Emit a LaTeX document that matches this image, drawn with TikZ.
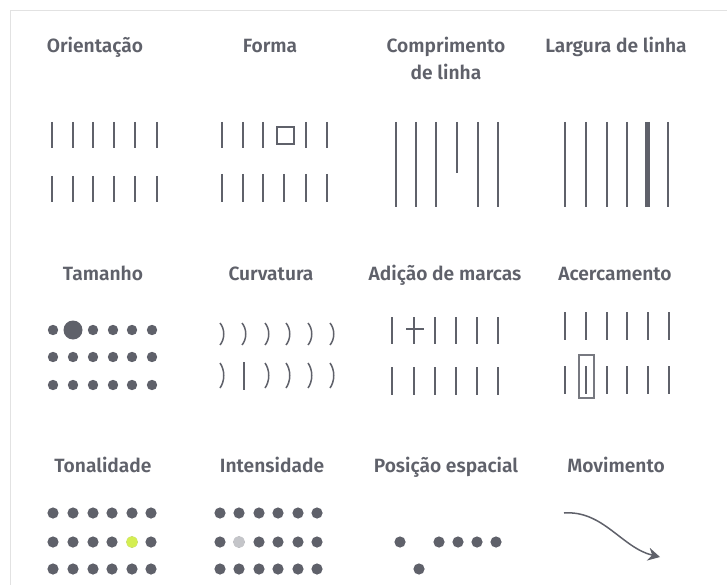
\documentclass[tikz,border=0pt]{standalone}
\usepackage{fontspec}
\setmainfont{Fira Sans}
\newfontfamily\titlefont{Fira Sans SemiBold}
\usetikzlibrary{arrows.meta,positioning}
\definecolor{ink}{RGB}{95,97,106}
\definecolor{frameline}{RGB}{226,226,226}
\definecolor{tonegreen}{RGB}{212,238,82}
\definecolor{pale}{RGB}{196,197,201}
\tikzset{%
  title/.style={
    text=ink,
    anchor=base,
    align=center,
    font=\titlefont\fontsize{19.2}{27}\selectfont
  },
  bar/.style={
    draw=ink,
    line width=2pt
  },
  thin bar/.style={
    draw=ink,
    line width=1.5pt
  },
}

\begin{document}
\begin{tikzpicture}[x=1pt,y=-1pt]
  \useasboundingbox (0,0) rectangle (727,585);
  \draw[frameline, line width=1pt] (10,585) -- (10,10.5) -- (727,10.5);

  % titles
  \node[title] (orient) at (95,53) {Orientação};
  \node[title] (forma) at (270,53) {Forma};
  \node[title] (compr) at (446,80) {Comprimento\\de linha};
  \node[title] (largura) at (616,53) {Largura de linha};
  \node[title] (tamanho) at (103,280) {Tamanho};
  \node[title] (curv) at (271,280) {Curvatura};
  \node[title] (adicao) at (445,280) {Adição de marcas};
  \node[title] (acerc) at (615,280) {Acercamento};
  \node[title] (tonal) at (103,472) {Tonalidade};
  \node[title] (intens) at (272,472) {Intensidade};
  \node[title] (posicao) at (446,472) {Posição espacial};
  \node[title] (movim) at (616,472) {Movimento};

  % Orientação
  \foreach \x in {52,73,93,114,135,157} {
    \draw[bar] (\x,122) -- (\x,148);
    \draw[bar] (\x,176) -- (\x,202);
  }
  % Forma
  \foreach \x in {222,243,263,306,327}
    \draw[bar] (\x,122) -- (\x,148);
  \draw[thin bar] (277,127) rectangle (294,144);
  \foreach \x in {222,243,263,284,306,327}
    \draw[bar] (\x,174) -- (\x,202);
  % Comprimento de linha
  \foreach \x in {396,416,436,478,498}
    \draw[bar] (\x,122) -- (\x,207);
  \draw[bar] (457,122) -- (457,173);
  % Largura de linha
  \foreach \x in {565,586,607,627,668}
    \draw[bar] (\x,122) -- (\x,207);
  \draw[draw=ink, line width=5pt] (647,122) -- (647,207);

  % Tamanho
  \foreach \y in {330,357,385}
    \foreach \x in {53,73,93,113,132,152}
      \fill[ink] (\x,\y) circle (5.2);
  \fill[white] (73,330) circle (6);
  \fill[ink] (73,330) circle (9.5);
  % Curvatura
  \foreach \x in {222,244,267,288,310,332}
    \draw[thin bar] (\x-2,323) .. controls (\x+3,329) and (\x+3,339) .. (\x-2,345);
  \foreach \x in {222,267,288,310,332}
    \draw[thin bar] (\x-2,363) .. controls (\x+3,370) and (\x+3,381) .. (\x-2,388);
  \draw[bar] (244,362) -- (244,390);
  % Adição de marcas
  \foreach \x in {392,414,435,456,477,498} {
    \draw[bar] (\x,317) -- (\x,344);
    \draw[bar] (\x,367) -- (\x,395);
  }
  \draw[thin bar] (406,329) -- (424,329);
  % Acercamento
  \foreach \x in {565,586,607,627,648,669} {
    \draw[bar] (\x,312) -- (\x,340);
    \draw[bar] (\x,366) -- (\x,394);
  }
  \draw[draw=ink!85, line width=1.3pt] (579,355) rectangle (594,398);

  % Tonalidade
  \foreach \y in {513,542,569}
    \foreach \x in {53,73,93,112,132,151}
      \fill[ink] (\x,\y) circle (5.6);
  \fill[tonegreen] (132,542) circle (5.7);
  % Intensidade
  \foreach \y in {513,542,569}
    \foreach \x in {220,239,259,278,298,317}
      \fill[ink] (\x,\y) circle (5.6);
  \fill[pale] (239,542) circle (5.7);
  % Posição espacial
  \foreach \x in {400,439,458,477,496}
    \fill[ink] (\x,542) circle (5.6);
  \fill[ink] (419,569) circle (5.6);
  % Movimento
  \coordinate (mstart) at (564,513);
  \coordinate (mend) at (660,557);
  \draw[ink, line width=1.5pt, -{Stealth[length=12pt,width=13pt,inset=4pt]}]
    (mstart) .. controls (603,510) and (622,548) .. (mend);
\end{tikzpicture}
\end{document}
